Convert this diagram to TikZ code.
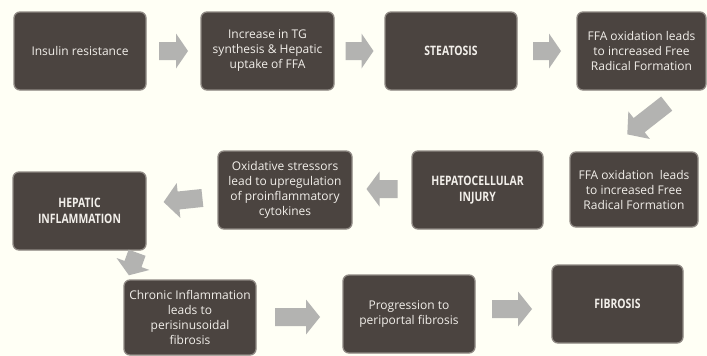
\documentclass[tikz,border=0pt]{standalone}
\usepackage{fontspec}
\setmainfont{Open Sans}
\newfontfamily\condb{Open Sans}[FakeStretch=0.8]
\usetikzlibrary{calc}
\definecolor{bg}{HTML}{FFFFF5}
\definecolor{boxfill}{HTML}{4B4440}
\definecolor{boxline}{HTML}{8E8883}
\definecolor{arrowgray}{HTML}{B3B3B1}
\definecolor{txt}{HTML}{F2EFEA}
\newcommand\blockarrow[5]{% name, center, angle, length, head length
  \begin{scope}[shift={#2},rotate=#3]
    \fill[arrowgray] (-#4/2,-9) -- (#4/2-#5,-9) -- (#4/2-#5,-17.5) -- (#4/2,0)
      -- (#4/2-#5,17.5) -- (#4/2-#5,9) -- (-#4/2,9) -- cycle;
    \coordinate (#1) at (0,0);
  \end{scope}}
\begin{document}
\begin{tikzpicture}[x=1pt,y=-1pt,
  stage/.style={draw=boxline,line width=1.3pt,fill=boxfill,rounded corners=6pt,
    text=txt,align=center,font=\fontsize{12}{15}\selectfont,inner sep=2pt},
  keystage/.style={stage,font=\condb\bfseries\fontsize{13}{16.5}\selectfont}]
\fill[bg] (0,0) rectangle (707,356);
\useasboundingbox (0,0) rectangle (707,356);
\node[stage,minimum width=132pt,minimum height=78pt] (b1) at (80,51) {Insulin resistance};
\node[stage,minimum width=133pt,minimum height=78pt] (b2) at (267.5,51) {Increase in TG\\synthesis \& Hepatic\\uptake of FFA};
\node[keystage,minimum width=132pt,minimum height=78pt] (b3) at (451,51) {STEATOSIS};
\node[stage,minimum width=129pt,minimum height=78pt] (b4) at (641.5,51) {FFA oxidation leads\\to increased Free\\Radical Formation};
\node[stage,minimum width=128pt,minimum height=75pt] (b5) at (634,189.5) {FFA oxidation\ \ leads\\to increased Free\\Radical Formation};
\node[keystage,minimum width=131pt,minimum height=78pt] (b6) at (477.5,190) {HEPATOCELLULAR\\INJURY};
\node[stage,minimum width=134pt,minimum height=78pt] (b7) at (285,190) {Oxidative stressors\\lead to upregulation\\of proinflammatory\\cytokines};
\node[keystage,minimum width=133pt,minimum height=78pt] (b8) at (79.5,211) {HEPATIC\\INFLAMMATION};
\node[stage,minimum width=132pt,minimum height=75pt] (b9) at (190,317.5) {Chronic Inflammation\\leads to\\perisinusoidal\\fibrosis};
\node[stage,minimum width=132pt,minimum height=78pt] (b10) at (409,314) {Progression to\\periportal fibrosis};
\node[keystage,minimum width=131pt,minimum height=78pt] (b11) at (617.5,304) {FIBROSIS};
% block arrows between stages
\blockarrow{a1}{($(b1.east)!0.5!(b2.west)$)}{0}{29}{12}
\blockarrow{a2}{($(b2.east)!0.5!(b3.west)$)}{0}{28}{12}
\blockarrow{a3}{($(b3.east)!0.5!(b4.west)$)}{0}{28}{12}
\blockarrow{a4}{(647,119)}{218}{50}{15}
\blockarrow{a5}{($(b7.east)!0.5!(b6.west)+(0,-1)$)}{180}{31}{13}
\blockarrow{a6}{(183,200)}{186}{39}{15}
\blockarrow{a7}{(133,264)}{250}{24}{12}
\blockarrow{a8}{(297.5,317)}{0}{45}{14}
\blockarrow{a9}{(512,309)}{0}{40}{14}
\end{tikzpicture}
\end{document}
